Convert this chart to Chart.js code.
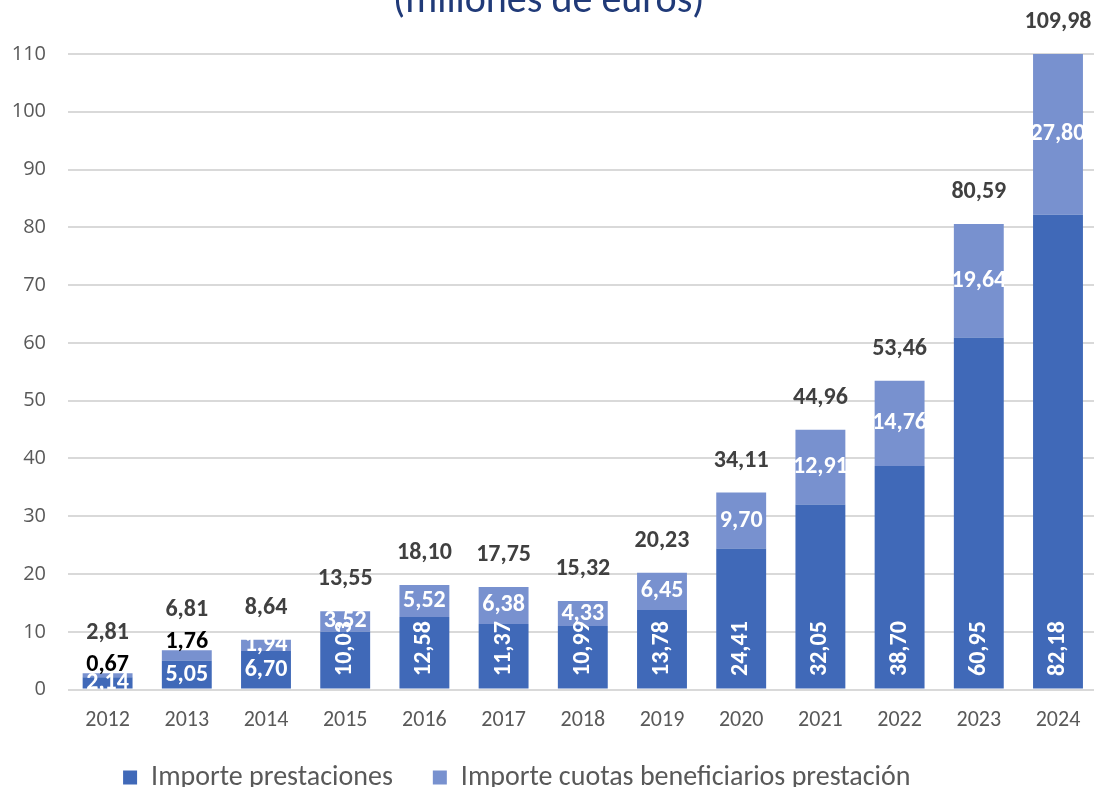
<!DOCTYPE html>
<html>
<head>
<meta charset="utf-8">
<script src="https://cdn.jsdelivr.net/npm/chart.js@4"></script>
<style>
  html, body { margin: 0; padding: 0; background: #fff; overflow: hidden; }
  #wrap { position: absolute; left: 0; top: -26px; width: 1100px; height: 842px; }
</style>
</head>
<body>
<div id="wrap"><canvas id="grafico" width="1100" height="842"></canvas></div>
<script>
const anios = ['2012', '2013', '2014', '2015', '2016', '2017', '2018', '2019', '2020', '2021', '2022', '2023', '2024'];
const prestaciones = [2.14, 5.05, 6.70, 10.03, 12.58, 11.37, 10.99, 13.78, 24.41, 32.05, 38.70, 60.95, 82.18];
const cuotas = [0.67, 1.76, 1.94, 3.52, 5.52, 6.38, 4.33, 6.45, 9.70, 12.91, 14.76, 19.64, 27.80];
const totales = [2.81, 6.81, 8.64, 13.55, 18.10, 17.75, 15.32, 20.23, 34.11, 44.96, 53.46, 80.59, 109.98];

const fuente = "Carlito, 'Liberation Sans Narrow', 'Open Sans', sans-serif";
const fmt = v => v.toFixed(2).replace('.', ',');

// etiquetas de datos dibujadas a mano (no hay plugin datalabels)
const etiquetas = {
    id: 'etiquetas',
    afterLayout(chart) {
        // la leyenda del original está algo más arriba y a la izquierda
        const lg = chart.legend;
        lg.right -= 64;
        lg.top -= 12;
        lg.bottom -= 12;
    },
    afterDatasetsDraw(chart) {
        const ctx = chart.ctx;
        const area = chart.chartArea;
        const metaBase = chart.getDatasetMeta(0);
        const metaCuota = chart.getDatasetMeta(1);
        ctx.save();
        ctx.font = 'bold 24px ' + fuente;
        ctx.textAlign = 'center';
        ctx.textBaseline = 'middle';

        metaBase.data.forEach((bar, i) => {
            const v = prestaciones[i];
            ctx.save();
            ctx.beginPath();
            ctx.rect(area.left, 0, area.width, area.bottom);
            ctx.clip();
            ctx.fillStyle = '#ffffff';
            if (v < 10) {
                ctx.fillText(fmt(v), bar.x, (bar.y + bar.base) / 2);
            } else {
                ctx.translate(bar.x, bar.base - 40);
                ctx.rotate(-Math.PI / 2);
                ctx.fillText(fmt(v), 0, 0);
            }
            ctx.restore();
        });

        metaCuota.data.forEach((bar, i) => {
            const v = cuotas[i];
            let yTotal = bar.y - 32;
            if (v < 1.8) {
                ctx.fillStyle = '#000000';
                ctx.fillText(fmt(v), bar.x, bar.y - 8);
                yTotal = bar.y - 40;
            } else {
                ctx.fillStyle = '#ffffff';
                ctx.fillText(fmt(v), bar.x, (bar.y + bar.base) / 2);
            }
            ctx.fillStyle = '#404040';
            ctx.fillText(fmt(totales[i]), bar.x, yTotal);
        });
        ctx.restore();
    }
};

new Chart(document.getElementById('grafico'), {
    type: 'bar',
    data: {
        labels: anios,
        datasets: [{
            label: 'Importe prestaciones',
            data: prestaciones,
            backgroundColor: '#4069b8',
            categoryPercentage: 1,
            barPercentage: 0.63
        }, {
            label: 'Importe cuotas beneficiarios prestación',
            data: cuotas,
            backgroundColor: '#7891cf',
            categoryPercentage: 1,
            barPercentage: 0.63
        }]
    },
    options: {
        responsive: false,
        animation: false,
        layout: { padding: { left: 0, right: 2.4, top: 0, bottom: 2.4 } },
        plugins: {
            title: {
                display: true,
                text: '(millones de euros)',
                color: '#203a78',
                font: { family: fuente, size: 40, weight: 'normal' },
                padding: { top: 4, bottom: 28 }
            },
            legend: {
                position: 'bottom',
                labels: {
                    color: '#595959',
                    font: { family: fuente, size: 28 },
                    boxWidth: 14,
                    boxHeight: 14,
                    padding: 40
                }
            },
            tooltip: { enabled: false }
        },
        scales: {
            x: {
                stacked: true,
                afterFit: s => { s.height = 46; },
                grid: { display: false },
                border: { display: false },
                ticks: { color: '#595959', font: { family: fuente, size: 22 }, padding: 10 }
            },
            y: {
                stacked: true,
                min: 0,
                max: 110,
                afterFit: s => { s.width = 68; },
                grid: { color: '#d9d9d9', lineWidth: 2, drawTicks: false },
                border: { display: false },
                ticks: { stepSize: 10, color: '#595959', font: { family: "'Open Sans', sans-serif", size: 20 }, padding: 22 }
            }
        }
    },
    plugins: [etiquetas]
});
</script>
</body>
</html>
